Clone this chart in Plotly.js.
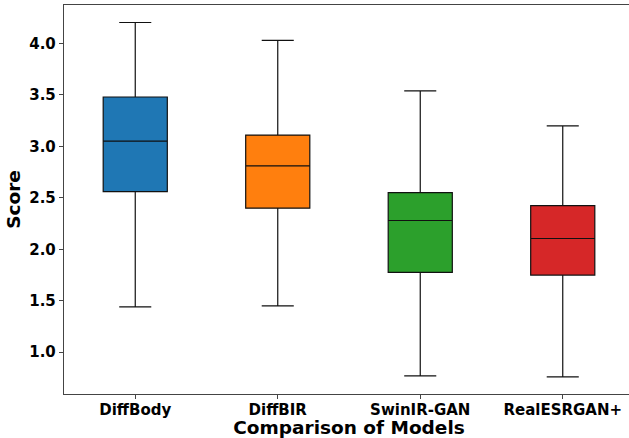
<!DOCTYPE html>
<html>
<head>
<meta charset="utf-8">
<script src="https://cdn.plot.ly/plotly-3.0.1.min.js"></script>
<style>
html, body { margin: 0; padding: 0; overflow: hidden; background: #fff; }
#chart { width: 640px; height: 438px; }
</style>
</head>
<body>
<div id="chart"></div>
<script>
const models = ["DiffBody", "DiffBIR", "SwinIR-GAN", "RealESRGAN+"];
const lowerWhisker = [1.44, 1.45, 0.77, 0.76];
const q1Values = [2.56, 2.40, 1.775, 1.75];
const medians = [3.052, 2.81, 2.28, 2.105];
const q3Values = [3.48, 3.11, 2.55, 2.425];
const upperWhisker = [4.204, 4.03, 3.54, 3.20];
const colors = ["#1f77b4", "#ff7f0e", "#2ca02c", "#d62728"];
const yTicks = [1.0, 1.5, 2.0, 2.5, 3.0, 3.5, 4.0];

const font = { family: "DejaVu Sans, sans-serif", size: 15, color: "#000", weight: "bold" };
const titleFont = { family: "DejaVu Sans, sans-serif", size: 18.5, weight: "bold", color: "#000" };

const traces = models.map((m, i) => ({
  type: "box",
  x: [m],
  q1: [q1Values[i]],
  median: [medians[i]],
  q3: [q3Values[i]],
  lowerfence: [lowerWhisker[i]],
  upperfence: [upperWhisker[i]],
  fillcolor: colors[i],
  line: { color: "#111", width: 1.2 },
  width: 0.45,
  whiskerwidth: 0.5,
  boxpoints: false,
  hoverinfo: "skip",
  showlegend: false,
  name: m
}));

const layout = {
  width: 640,
  height: 438,
  margin: { l: 63.5, r: 5.5, t: 5, b: 43.5 },
  paper_bgcolor: "#fff",
  plot_bgcolor: "#fff",
  font: font,
  showlegend: false,
  boxmode: "overlay",
  xaxis: {
    type: "category",
    categoryorder: "array",
    categoryarray: models,
    range: [-0.5, 3.5],
    showgrid: false,
    zeroline: false,
    showline: true,
    mirror: true,
    linecolor: "#444",
    linewidth: 1.2,
    ticks: "outside",
    ticklen: 4,
    tickcolor: "#444",
    tickfont: font,
    ticklabelstandoff: -2,
    title: { text: "Comparison of Models", font: titleFont, standoff: 4 }
  },
  yaxis: {
    range: [0.594, 4.374],
    tickvals: yTicks,
    ticktext: yTicks.map(v => v.toFixed(1)),
    showgrid: false,
    zeroline: false,
    showline: true,
    mirror: true,
    linecolor: "#444",
    linewidth: 1.2,
    ticks: "outside",
    ticklen: 4,
    tickcolor: "#444",
    tickfont: font,
    title: { text: "Score", font: titleFont, standoff: 3 }
  }
};

Plotly.newPlot("chart", traces, layout, { staticPlot: true, displayModeBar: false });
</script>
</body>
</html>
